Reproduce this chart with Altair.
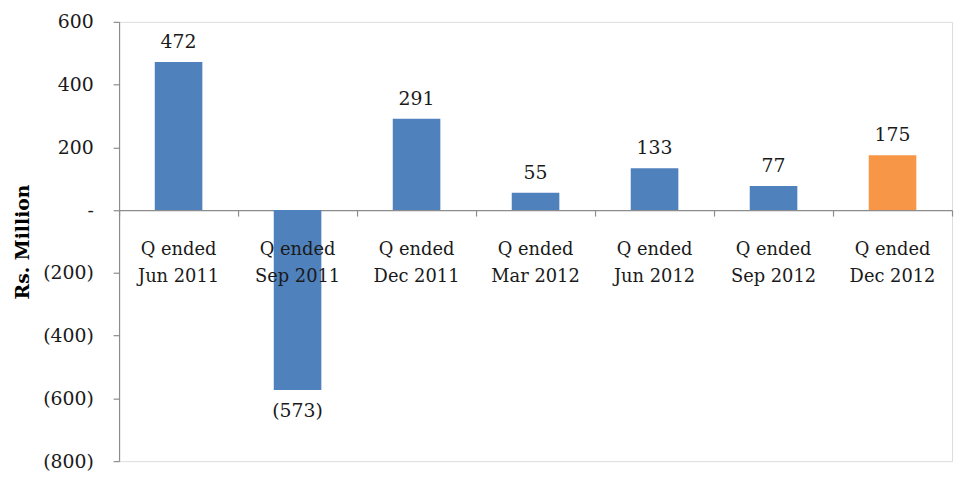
import altair as alt
import pandas as pd

quarters = ["Jun 2011", "Sep 2011", "Dec 2011", "Mar 2012", "Jun 2012", "Sep 2012", "Dec 2012"]
prefix = "Q ended"
values = [472, -573, 291, 55, 133, 77, 175]
highlight = [False, False, False, False, False, False, True]
y_ticks = [-800, -600, -400, -200, 0, 200, 400, 600]

FONT = "DejaVu Serif"
TXT = "#1a1a1a"
GRAY = "#8c8c8c"

df = pd.DataFrame({
    "key": [f"{prefix} {q}" for q in quarters],
    "line1": [prefix] * len(quarters),
    "line2": quarters,
    "value": values,
    "hl": ["Current" if h else "Past" for h in highlight],
    "label": [str(v) if v >= 0 else f"({-v})" for v in values],
})

W, H = 840, 443
plot_top = 12
zero_px = (600 - 0) / 1400 * H
axis_offset = -(H - zero_px)

x = alt.X("key:N", sort=None, title=None,
          scale=alt.Scale(paddingInner=0, paddingOuter=0),
          axis=alt.Axis(orient="bottom", offset=axis_offset, labels=False, ticks=True,
                        tickBand="extent", tickSize=6, tickColor=GRAY, domainColor=GRAY,
                        domainWidth=1.2, tickWidth=1.2, grid=False))
y_scale = alt.Scale(domain=[-800, 600], nice=False, zero=False)

base = alt.Chart(df)

bars = base.mark_bar(size=48).encode(
    x=x,
    y=alt.Y("value:Q", scale=y_scale, title="Rs. Million",
            axis=alt.Axis(values=y_ticks, grid=False, tickSize=6, tickColor=GRAY,
                          domainColor=GRAY, domainWidth=1.2, tickWidth=1.2,
                          labelFont=FONT, labelFontSize=19, labelColor=TXT, labelPadding=20,
                          labelExpr="datum.value == 0 ? '-' : (datum.value < 0 ? '(' + abs(datum.value) + ')' : datum.value)",
                          titleFont=FONT, titleFontSize=19, titleFontWeight="bold",
                          titleColor="#000000", titlePadding=10)),
    color=alt.Color("hl:N", scale=alt.Scale(domain=["Past", "Current"], range=["#4F81BD", "#F79646"]),
                    legend=None),
)

pos_labels = base.transform_filter("datum.value >= 0").mark_text(
    font=FONT, fontSize=19, color=TXT, baseline="alphabetic", dy=-14
).encode(x=alt.X("key:N", sort=None), y=alt.Y("value:Q", scale=y_scale), text="label:N")

neg_labels = base.transform_filter("datum.value < 0").mark_text(
    font=FONT, fontSize=19, color=TXT, baseline="top", dy=12
).encode(x=alt.X("key:N", sort=None), y=alt.Y("value:Q", scale=y_scale), text="label:N")

cat1 = base.mark_text(font=FONT, fontSize=18, color=TXT, baseline="middle", dy=40).encode(
    x=alt.X("key:N", sort=None), y=alt.datum(0, scale=y_scale), text="line1:N")
cat2 = base.mark_text(font=FONT, fontSize=18, color=TXT, baseline="middle", dy=67).encode(
    x=alt.X("key:N", sort=None), y=alt.datum(0, scale=y_scale), text="line2:N")

chart = alt.layer(bars, pos_labels, neg_labels, cat1, cat2).properties(
    width=W, height=H,
    autosize=alt.AutoSizeParams(type="none"),
    padding={"left": 112, "top": plot_top, "right": 3, "bottom": 8},
).configure_view(stroke=None).configure(background="white")

chart.save("out.html", embed_options={"renderer": "svg", "actions": False})
